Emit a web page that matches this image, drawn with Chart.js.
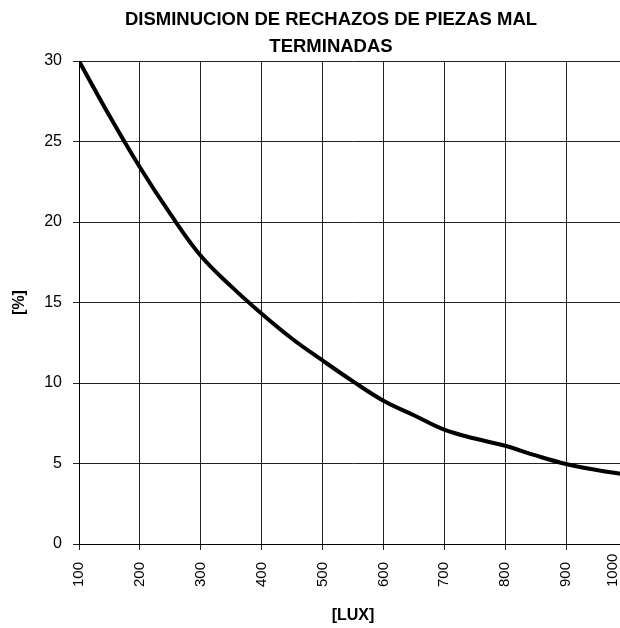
<!DOCTYPE html>
<html>
<head>
<meta charset="utf-8">
<title>Disminucion de rechazos</title>
<script src="https://cdn.jsdelivr.net/npm/chart.js@4.4.1/dist/chart.umd.min.js"></script>
<style>
  html, body { margin: 0; padding: 0; background: #fff; overflow: hidden; }
  #wrap { width: 620px; height: 628px; overflow: hidden; }
  #box { width: 662px; height: 628px; position: relative; }
</style>
</head>
<body>
<div id="wrap"><div id="box"><canvas id="chart"></canvas></div></div>
<script>
// datos
const lux = [100, 150, 200, 250, 300, 350, 400, 450, 500, 550, 600, 650, 700, 750, 800, 850, 900, 950, 1000];
const rechazos = [30, 26.6, 23.4, 20.5, 17.9, 16.0, 14.3, 12.75, 11.4, 10.1, 8.9, 8.0, 7.1, 6.55, 6.1, 5.5, 4.97, 4.6, 4.3];
const xMin = 100, xMax = 1000, xStep = 100;
const yMin = 0, yMax = 30, yStep = 5;
const titulo = ['DISMINUCION DE RECHAZOS DE PIEZAS MAL', 'TERMINADAS'];

const FONT = "'Liberation Sans', Arial, sans-serif";
const visibleWidth = 620;

// la ultima etiqueta del eje X queda dentro del area visible (el grafico esta recortado)
const lastLabel = {
    id: 'lastLabel',
    afterDraw(chart) {
        const sx = chart.scales.x;
        const ctx = chart.ctx;
        const px = Math.min(sx.getPixelForValue(xMax), visibleWidth - 7);
        ctx.save();
        ctx.translate(px, sx.top + 6 + 12 + 25);
        ctx.rotate(-Math.PI / 2);
        ctx.textAlign = 'left';
        ctx.textBaseline = 'middle';
        ctx.fillStyle = '#000';
        ctx.font = '15px ' + FONT;
        ctx.fillText(String(xMax), 0, 0);
        ctx.restore();
    }
};

new Chart(document.getElementById('chart'), {
    type: 'line',
    data: {
        datasets: [{
            data: lux.map((x, i) => ({ x: x, y: rechazos[i] })),
            borderColor: '#000',
            borderWidth: 4,
            pointRadius: 0,
            fill: false,
            tension: 0.4
        }]
    },
    options: {
        responsive: true,
        maintainAspectRatio: false,
        animation: false,
        layout: { padding: 0 },
        plugins: {
            legend: { display: false },
            tooltip: { enabled: false },
            title: {
                display: true,
                text: titulo,
                color: '#000',
                font: { family: FONT, size: 18.5, weight: 'bold', lineHeight: 1.46 },
                padding: { top: 6.5, bottom: 0.5 }
            }
        },
        scales: {
            x: {
                type: 'linear',
                min: xMin,
                max: xMax,
                afterFit: s => { s.height = 84; s.paddingRight = 35; s.paddingLeft = 0; },
                ticks: {
                    stepSize: xStep,
                    minRotation: 90,
                    maxRotation: 90,
                    padding: 12,
                    color: c => c.tick && c.tick.value === xMax ? 'rgba(0,0,0,0)' : '#000',
                    font: { family: FONT, size: 15 }
                },
                grid: { color: '#222', lineWidth: 1, tickLength: 6 },
                border: { color: '#000', width: 1 },
                title: {
                    display: true,
                    text: '[LUX]',
                    color: '#000',
                    font: { family: FONT, size: 16, weight: 'bold' },
                    padding: { top: 0, bottom: 2.5 }
                }
            },
            y: {
                min: yMin,
                max: yMax,
                afterFit: s => { s.width = 79; },
                ticks: {
                    stepSize: yStep,
                    padding: 11,
                    color: '#000',
                    font: { family: FONT, size: 16 }
                },
                grid: { color: '#222', lineWidth: 1, tickLength: 6 },
                border: { color: '#000', width: 1 },
                title: {
                    display: true,
                    text: '[%]',
                    color: '#000',
                    font: { family: FONT, size: 16, weight: 'bold' },
                    padding: { top: 9.5, bottom: 0 }
                }
            }
        }
    },
    plugins: [lastLabel]
});
</script>
</body>
</html>
